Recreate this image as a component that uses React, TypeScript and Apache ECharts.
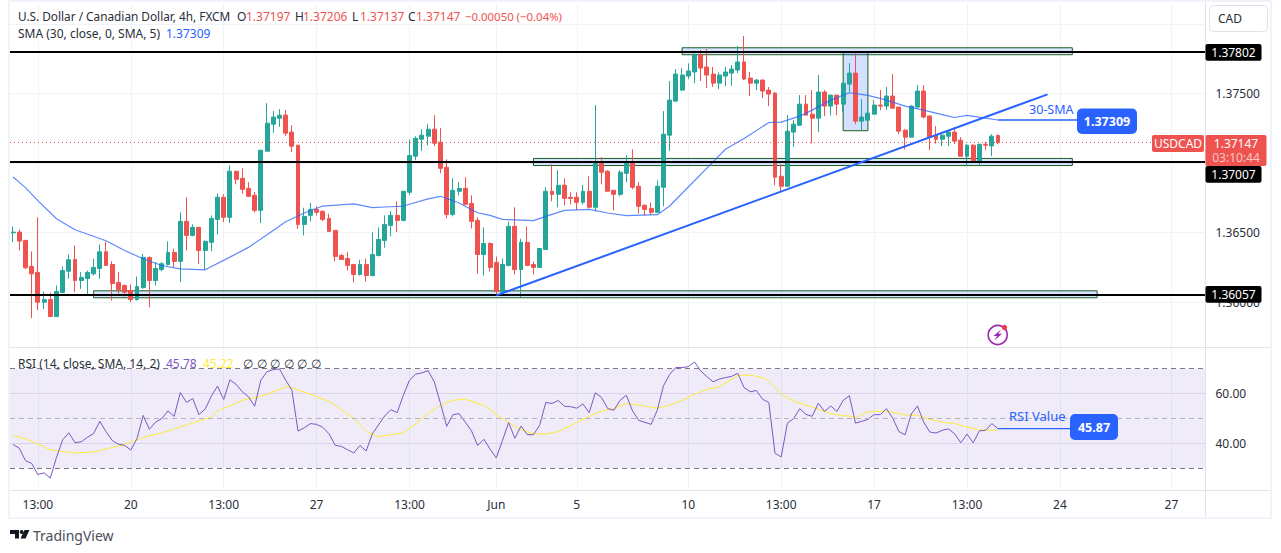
import React, { useEffect, useRef } from "react";
import * as echarts from "echarts";

const FONT = '"Noto Sans", sans-serif';
const UP = "#26a69a";
const DOWN = "#ef5350";
const BLUE = "#2962ff";
const GRID = "#f0f3fa";

const opens = [
  1.36499,1.36504,1.36444,1.36257,1.36214,1.36000,1.36019,1.35897,1.36070,1.36223,
  1.36307,1.36156,1.36170,1.36204,1.36242,1.36362,1.36271,1.36142,1.36120,1.36084,
  1.36019,1.36106,1.36322,1.36156,1.36235,1.36271,1.36358,1.36293,1.36581,1.36480,
  1.36538,1.36372,1.36430,1.36595,1.36754,1.36610,1.36941,1.36890,1.36818,1.36768,
  1.36660,1.37085,1.37279,1.37322,1.37344,1.37222,1.37128,1.36559,1.36624,1.36667,
  1.36653,1.36602,1.36516,1.36336,1.36314,1.36271,1.36199,1.36271,1.36192,1.36336,
  1.36444,1.36552,1.36624,1.36588,1.36790,1.37049,1.37171,1.37193,1.37243,1.37150,
  1.36970,1.36631,1.36797,1.36818,1.36710,1.36588,1.36343,1.36422,1.36286,1.36072,
  1.36264,1.36545,1.36235,1.36430,1.36271,1.36250,1.36379,1.36797,1.36775,1.36840,
  1.36754,1.36754,1.36718,1.36797,1.36682,1.36998,1.36941,1.36804,1.36775,1.36926,
  1.37006,1.36833,1.36696,1.36674,1.36646,1.36826,1.37200,1.37445,1.37524,1.37625,
  1.37654,1.37776,1.37690,1.37639,1.37574,1.37625,1.37646,1.37668,1.37726,1.37610,
  1.37574,1.37596,1.37524,1.37502,1.36905,1.36833,1.37222,1.37272,1.37423,1.37351,
  1.37322,1.37510,1.37409,1.37488,1.37423,1.37567,1.37646,1.37301,1.37308,1.37351,
  1.37416,1.37409,1.37481,1.37402,1.37236,1.37186,1.37402,1.37517,1.37337,1.37200,
  1.37171,1.37193,1.37222,1.37164,1.37049,1.37128,1.37013,1.37135,1.37123,1.37197,
];
const closes = [
  1.36504,1.36439,1.36247,1.36204,1.36000,1.36019,1.35897,1.36077,1.36228,1.36305,
  1.36156,1.36178,1.36214,1.36250,1.36362,1.36264,1.36134,1.36091,1.36072,1.36019,
  1.36113,1.36322,1.36156,1.36242,1.36276,1.36358,1.36293,1.36581,1.36480,1.36538,
  1.36372,1.36437,1.36602,1.36754,1.36610,1.36941,1.36883,1.36811,1.36761,1.36660,
  1.37092,1.37286,1.37330,1.37344,1.37214,1.37121,1.36559,1.36617,1.36667,1.36646,
  1.36595,1.36509,1.36329,1.36307,1.36264,1.36199,1.36271,1.36192,1.36343,1.36451,
  1.36559,1.36624,1.36588,1.36797,1.37054,1.37178,1.37200,1.37243,1.37142,1.36962,
  1.36631,1.36804,1.36818,1.36703,1.36581,1.36343,1.36422,1.36250,1.36077,1.36271,
  1.36545,1.36235,1.36430,1.36264,1.36250,1.36386,1.36797,1.36775,1.36840,1.36746,
  1.36746,1.36718,1.36797,1.36682,1.36998,1.36934,1.36797,1.36775,1.36934,1.37006,
  1.36826,1.36689,1.36667,1.36646,1.36833,1.37207,1.37452,1.37639,1.37632,1.37661,
  1.37776,1.37682,1.37632,1.37574,1.37632,1.37654,1.37675,1.37726,1.37603,1.37574,
  1.37596,1.37517,1.37495,1.36898,1.36833,1.37229,1.37279,1.37423,1.37344,1.37322,
  1.37510,1.37409,1.37488,1.37423,1.37574,1.37646,1.37301,1.37330,1.37358,1.37416,
  1.37409,1.37481,1.37394,1.37229,1.37186,1.37409,1.37517,1.37330,1.37186,1.37171,
  1.37200,1.37222,1.37157,1.37049,1.37128,1.37013,1.37135,1.37128,1.37193,1.37147,
];
const highs = [
  1.36545,1.36523,1.36449,1.36365,1.36610,1.36077,1.36067,1.36120,1.36257,1.36343,
  1.36408,1.36216,1.36228,1.36312,1.36415,1.36434,1.36295,1.36216,1.36127,1.36127,
  1.36185,1.36348,1.36329,1.36288,1.36288,1.36437,1.36384,1.36646,1.36754,1.36559,
  1.36538,1.36444,1.36624,1.36782,1.36775,1.36984,1.36941,1.36962,1.36862,1.36792,
  1.37092,1.37430,1.37373,1.37387,1.37380,1.37272,1.37128,1.36679,1.36713,1.36689,
  1.36660,1.36636,1.36516,1.36348,1.36360,1.36276,1.36305,1.36312,1.36502,1.36538,
  1.36624,1.36655,1.36725,1.36797,1.37169,1.37193,1.37243,1.37279,1.37344,1.37250,
  1.37027,1.36890,1.36862,1.36898,1.36768,1.36610,1.36538,1.36430,1.36329,1.36314,
  1.36581,1.36682,1.36456,1.36545,1.36293,1.36386,1.36826,1.36991,1.36948,1.36890,
  1.36790,1.36790,1.36842,1.36905,1.37416,1.37042,1.36948,1.36804,1.36948,1.37056,
  1.37099,1.36862,1.36703,1.36718,1.36876,1.37373,1.37589,1.37675,1.37682,1.37716,
  1.37800,1.37812,1.37819,1.37690,1.37651,1.37690,1.37704,1.37841,1.37913,1.37654,
  1.37603,1.37601,1.37546,1.37510,1.36991,1.37344,1.37308,1.37488,1.37488,1.37524,
  1.37632,1.37524,1.37488,1.37488,1.37574,1.37718,1.37790,1.37459,1.37423,1.37452,
  1.37524,1.37546,1.37639,1.37402,1.37243,1.37416,1.37560,1.37560,1.37344,1.37265,
  1.37222,1.37229,1.37258,1.37186,1.37135,1.37135,1.37135,1.37152,1.37207,1.37206,
];
const lows = [
  1.36432,1.36372,1.36240,1.35885,1.35945,1.35952,1.35897,1.35897,1.36065,1.36168,
  1.36072,1.36096,1.36060,1.36192,1.36168,1.36264,1.36012,1.36060,1.36041,1.36000,
  1.36012,1.36096,1.35964,1.36120,1.36223,1.36264,1.36252,1.36144,1.36372,1.36473,
  1.36276,1.36233,1.36367,1.36487,1.36576,1.36569,1.36847,1.36780,1.36756,1.36646,
  1.36569,1.37085,1.37217,1.37260,1.37195,1.37080,1.36528,1.36480,1.36581,1.36624,
  1.36583,1.36509,1.36295,1.36305,1.36228,1.36142,1.36192,1.36149,1.36185,1.36329,
  1.36391,1.36473,1.36504,1.36581,1.36770,1.37020,1.37087,1.37128,1.37121,1.36926,
  1.36602,1.36617,1.36768,1.36703,1.36530,1.36206,1.36192,1.36221,1.36055,1.36060,
  1.36257,1.36199,1.36036,1.36264,1.36199,1.36250,1.36379,1.36725,1.36682,1.36696,
  1.36703,1.36662,1.36703,1.36674,1.36653,1.36847,1.36797,1.36660,1.36761,1.36862,
  1.36811,1.36636,1.36622,1.36629,1.36641,1.36689,1.37087,1.37438,1.37517,1.37603,
  1.37574,1.37589,1.37538,1.37546,1.37531,1.37553,1.37555,1.37646,1.37596,1.37481,
  1.37524,1.37466,1.37409,1.36840,1.36797,1.36833,1.37116,1.37267,1.37344,1.37140,
  1.37222,1.37337,1.37342,1.37344,1.37368,1.37510,1.37279,1.37236,1.37301,1.37351,
  1.37380,1.37380,1.37394,1.37207,1.37097,1.37186,1.37394,1.37322,1.37092,1.37140,
  1.37121,1.37121,1.37135,1.37049,1.36977,1.37011,1.36984,1.37092,1.37049,1.37137,
];
const smaPoints = [
  [0,1.36900],[2,1.36823],[4,1.36730],[7,1.36600],[10,1.36521],[15,1.36442],[18,1.36372],[21,1.36312],
  [24,1.36264],[27,1.36240],[31,1.36233],[35,1.36324],[38,1.36394],[41,1.36485],[44,1.36578],[47,1.36641],
  [50,1.36691],[55,1.36706],[58,1.36679],[60,1.36684],[63,1.36691],[67,1.36742],[69,1.36761],[72,1.36713],
  [75,1.36643],[77,1.36624],[79,1.36595],[84,1.36586],[86,1.36617],[89,1.36660],[93,1.36667],[96,1.36641],
  [99,1.36622],[104,1.36629],[106,1.36691],[109,1.36828],[113,1.37008],[115,1.37099],[118,1.37176],[122,1.37291],
  [124,1.37294],[127,1.37337],[129,1.37380],[132,1.37452],[135,1.37505],[138,1.37486],[141,1.37452],[144,1.37409],
  [147,1.37380],[151,1.37337],[152,1.37327],[154,1.37342],[157,1.37322],[159,1.37309],
];
const rsiValues = [
  39.5,38.0,33.0,31.9,27.4,28.1,26.0,34.3,41.4,44.2,
  40.2,40.6,42.4,43.9,48.8,44.7,41.1,39.6,39.1,37.3,
  41.8,51.2,45.6,48.5,49.9,53.0,50.8,60.4,56.4,58.0,
  51.5,53.7,58.9,63.0,57.6,65.5,63.7,60.7,58.7,54.9,
  65.4,68.8,69.6,69.9,65.4,61.4,44.9,46.2,47.9,47.6,
  46.4,43.8,39.2,38.7,37.4,36.1,39.1,36.9,43.8,47.4,
  51.0,53.5,52.3,59.3,65.4,67.8,68.3,69.2,64.7,56.0,
  46.8,51.5,51.9,48.5,45.0,39.1,41.6,37.7,34.1,41.1,
  48.3,42.0,46.9,43.5,43.4,47.2,56.4,56.0,57.2,54.9,
  54.7,54.1,55.8,52.3,60.3,58.4,53.9,53.3,57.3,59.3,
  53.0,49.2,48.4,47.6,53.3,63.1,67.7,70.5,70.4,70.8,
  72.7,69.1,66.8,64.7,65.8,66.4,66.9,68.1,62.4,60.7,
  61.2,57.7,56.4,36.0,34.5,48.1,49.9,53.9,51.6,50.8,
  56.1,52.8,55.0,52.8,57.2,59.1,48.1,48.8,49.6,51.5,
  51.5,53.9,50.1,44.7,43.4,51.8,55.0,48.5,44.5,44.1,
  45.2,45.8,43.8,40.2,43.7,40.2,45.0,45.2,47.9,45.87,
];
const rsiMaPoints = [
  [0,43.1],[2,41.8],[4,39.7],[6,37.3],[10,36.1],[13,36.5],[18,39.5],[20,41.5],[22,43.0],[24,44.1],[27,46.5],
  [32,50.6],[33,53.0],[35,55.0],[37,57.3],[39,58.3],[41,59.6],[44,62.7],[45,62.3],[48,59.7],[51,56.9],[55,50.1],
  [57,44.7],[59,42.6],[63,44.2],[65,47.9],[67,51.9],[69,55.3],[71,57.3],[73,57.7],[75,56.0],[76,55.3],[78,51.5],
  [80,48.3],[82,45.4],[84,43.8],[86,43.7],[88,44.7],[91,48.3],[93,50.8],[95,53.0],[97,53.9],[99,56.0],[102,54.9],
  [104,54.1],[106,55.3],[108,57.3],[110,59.7],[112,61.6],[114,62.7],[117,67.2],[119,67.4],[121,66.4],[122,65.1],
  [124,59.7],[126,57.0],[128,55.3],[130,53.7],[132,51.9],[134,51.0],[135,51.0],[136,50.3],[138,52.6],[141,53.0],
  [144,51.4],[146,51.2],[148,49.6],[150,48.5],[152,47.9],[154,46.5],[156,45.3],[159,45.22],
];
const trendLine = [[78,1.36049],[167,1.37493]];
const smaCallout = [[159,1.37309],[172,1.37309]];
const rsiCallout = [[159,45.87],[171,45.87]];
const levels = [1.37802,1.37007,1.36057];
const levelLabels = ["1.37802","1.37007","1.36057"];
const zones = [
  { x0:108, x1:171, hi:1.37828, lo:1.37778 },
  { x0:84, x1:171, hi:1.37033, lo:1.36982 },
  { x0:13, x1:175, hi:1.36082, lo:1.36032 },
];
const focusBox = { x0:134, x1:138, hi:1.37796, lo:1.37232 };
const lastPrice = 1.37147;
const priceGridTicks = [1.36,1.365,1.37,1.375,1.38];
const priceLabelTicks = [1.36,1.365,1.375];
const rsiTicks = [40,60];
const categoryCount = 193;
const timeTickIndex = [4,19,34,49,64,78,91,109,124,139,154,169,187];
const timeTickLabels = ["13:00","20","13:00","27","13:00","Jun","5","10","13:00","17","13:00","24","27"];

const categories = Array.from({ length: categoryCount }, (_, i) => {
  const k = timeTickIndex.indexOf(i);
  return k >= 0 ? timeTickLabels[k] : `b${i}`;
});
const isTick = (i: number) => timeTickIndex.includes(i);

const txt = (x: number, y: number, text: string, fill: string, fontSize = 12, extra: any = {}) => ({
  type: "text", x, y, z: 60,
  style: { text, fill, font: `${extra.fontWeight || "normal"} ${fontSize}px ${FONT}`, textAlign: extra.align || "left", textVerticalAlign: "middle", textBaseline: "middle" },
});
const box = (x: number, y: number, width: number, height: number, fill: string, r = 0, z = 55, stroke?: string) => ({
  type: "rect", z, shape: { x, y, width, height, r },
  style: { fill, stroke: stroke || "none", lineWidth: stroke ? 1 : 0 },
});
const rule = (x1: number, y1: number, x2: number, y2: number, stroke: string, lineWidth = 1, z = 50) => ({
  type: "line", z, shape: { x1, y1, x2, y2 }, style: { stroke, lineWidth },
});

export default function App() {
  const ref = useRef<HTMLDivElement>(null);
  useEffect(() => {
    document.body.style.margin = "0";
    const chart = echarts.init(ref.current!, undefined, { renderer: "svg" });
    const xBase = (gridIndex: number, show: boolean) => ({
      type: "category", gridIndex, data: categories, boundaryGap: true,
      axisLine: { show: false }, axisTick: { show: false },
      axisLabel: {
        show, interval: (i: number) => isTick(i), margin: 8, color: "#2a2e39",
        fontFamily: FONT, fontSize: 12, hideOverlap: false,
      },
      splitLine: { show: true, interval: (i: number) => isTick(i), alignWithLabel: true, lineStyle: { color: GRID, width: 1 } },
    });
    const option: any = {
      animation: false,
      backgroundColor: "#ffffff",
      grid: [
        { left: 10, top: 3, width: 1195.5, height: 344.5 },
        { left: 10, top: 347.5, width: 1195.5, height: 143 },
      ],
      xAxis: [xBase(0, false), xBase(1, true)],
      yAxis: [
        {
          type: "value", gridIndex: 0, position: "right", min: 1.356748, max: 1.381496, scale: true,
          axisLine: { show: false }, axisTick: { show: false, customValues: priceGridTicks },
          axisLabel: { customValues: priceLabelTicks, margin: 10, color: "#2a2e39", fontFamily: FONT, fontSize: 12, formatter: (v: number) => v.toFixed(5) },
          splitLine: { show: true, lineStyle: { color: GRID, width: 1 } },
        },
        {
          type: "value", gridIndex: 1, position: "right", min: 21.0, max: 78.5, scale: true,
          axisLine: { show: false }, axisTick: { show: false, customValues: rsiTicks },
          axisLabel: { customValues: rsiTicks, margin: 10, color: "#2a2e39", fontFamily: FONT, fontSize: 12, formatter: (v: number) => v.toFixed(2) },
          splitLine: { show: true, lineStyle: { color: "#e6e3ef", width: 1 } },
        },
      ],
      series: [
        {
          name: "drawings", type: "line", xAxisIndex: 0, yAxisIndex: 0, data: [], z: 1, silent: true,
          markArea: {
            silent: true,
            data: [
              ...zones.map((d) => [
                { xAxis: d.x0, yAxis: d.hi, itemStyle: { color: "rgba(41,98,255,0.18)", borderColor: "#1b5e20", borderWidth: 1 } },
                { xAxis: d.x1, yAxis: d.lo },
              ]),
              [
                { xAxis: focusBox.x0, yAxis: focusBox.hi, itemStyle: { color: "rgba(41,98,255,0.2)", borderColor: "#1b5e20", borderWidth: 1 } },
                { xAxis: focusBox.x1, yAxis: focusBox.lo },
              ],
            ],
          },
          markLine: {
            silent: true, symbol: "none", label: { show: false }, precision: 6,
            data: [
              ...levels.map((v) => ({ yAxis: v, lineStyle: { color: "#000000", width: 2, type: "solid" } })),
              { yAxis: lastPrice, lineStyle: { color: DOWN, width: 1, type: [1, 3] } },
            ],
          },
        },
        {
          name: "USDCAD", type: "candlestick", xAxisIndex: 0, yAxisIndex: 0, z: 3, barWidth: 4.4,
          data: opens.map((o, i) => [o, closes[i], lows[i], highs[i]]),
          itemStyle: { color: UP, color0: DOWN, borderColor: UP, borderColor0: DOWN, borderWidth: 1 },
        },
        {
          name: "SMA", type: "line", xAxisIndex: 0, yAxisIndex: 0, z: 4, data: smaPoints, symbol: "none",
          lineStyle: { color: BLUE, width: 1.2, opacity: 0.75 }, smooth: false,
        },
        {
          name: "Trend", type: "line", xAxisIndex: 0, yAxisIndex: 0, z: 5, data: trendLine, symbol: "none",
          lineStyle: { color: BLUE, width: 2 },
        },
        {
          name: "SMA callout", type: "line", xAxisIndex: 0, yAxisIndex: 0, z: 5,
          data: smaCallout.map((p, i) => ({ value: p, symbol: i === 0 ? "circle" : "none", symbolSize: 5 })),
          itemStyle: { color: BLUE }, lineStyle: { color: BLUE, width: 1.3 },
        },
        {
          name: "RSI band", type: "line", xAxisIndex: 1, yAxisIndex: 1, data: [], z: 1, silent: true,
          markArea: {
            silent: true,
            data: [[
              { xAxis: 0, x: 10, yAxis: 70, itemStyle: { color: "rgba(126,87,194,0.12)" } },
              { x: 1205.5, yAxis: 30 },
            ]],
          },
          markLine: {
            silent: true, symbol: "none", label: { show: false }, precision: 6,
            data: [
              { yAxis: 70, lineStyle: { color: "#787b86", width: 1, type: [5, 4] } },
              { yAxis: 50, lineStyle: { color: "#b5b3bd", width: 1, type: [5, 4] } },
              { yAxis: 30, lineStyle: { color: "#787b86", width: 1, type: [5, 4] } },
            ],
          },
        },
        {
          name: "RSI", type: "line", xAxisIndex: 1, yAxisIndex: 1, z: 4, symbol: "none",
          data: rsiValues, lineStyle: { color: "#7e57c2", width: 1 },
        },
        {
          name: "RSI MA", type: "line", xAxisIndex: 1, yAxisIndex: 1, z: 3, symbol: "none",
          data: rsiMaPoints, lineStyle: { color: "#ffeb3b", width: 1 },
        },
        {
          name: "RSI callout", type: "line", xAxisIndex: 1, yAxisIndex: 1, z: 5,
          data: rsiCallout.map((p, i) => ({ value: p, symbol: i === 0 ? "circle" : "none", symbolSize: 5 })),
          itemStyle: { color: BLUE }, lineStyle: { color: BLUE, width: 1.3 },
        },
      ],
      graphic: {
        elements: [
          { type: "rect", z: 40, shape: { x: 9, y: 1, width: 1262, height: 517 }, style: { fill: "none", stroke: GRID, lineWidth: 2 } },
          rule(10, 347.5, 1270, 347.5, "#e0e3eb"),
          rule(10, 490.5, 1270, 490.5, "#e0e3eb"),
          rule(1205.5, 2, 1205.5, 517, "#e0e3eb"),
          txt(18, 16, "U.S. Dollar / Canadian Dollar, 4h, FXCM", "#2a2e39", 11.8),
          txt(237, 16, "O", "#2a2e39"), txt(246, 16, "1.37197", DOWN),
          txt(295, 16, "H", "#2a2e39"), txt(303, 16, "1.37206", DOWN),
          txt(352, 16, "L", "#2a2e39"), txt(360, 16, "1.37137", DOWN),
          txt(408, 16, "C", "#2a2e39"), txt(416, 16, "1.37147", DOWN),
          txt(465, 16, "\u22120.00050 (\u22120.04%)", DOWN, 11.4),
          txt(18, 33, "SMA (30, close, 0, SMA, 5)", "#2a2e39"),
          txt(166, 33, "1.37309", BLUE),
          txt(18, 363, "RSI (14, close, SMA, 14, 2)", "#2a2e39"),
          txt(166, 363, "45.78", "#7e57c2"),
          txt(203, 363, "45.22", "#ffeb3b"),
          ...[243, 256.6, 270.2, 283.8, 297.4, 311].map((x) => txt(x, 363, "\u2205", "#2a2e39")),
          box(1209.5, 5.5, 58, 26, "#ffffff", 4, 52, "#e0e3eb"),
          txt(1218, 18.5, "CAD", "#2a2e39"),
          ...levelLabels.map((t, i) => {
            const y = [44, 166, 286][i];
            return [box(1205.5, y, 56, 16.7, "#000000", 2), txt(1233.5, y + 8.5, t, "#ffffff", 12, { align: "center" })];
          }).flat(),
          box(1152, 135, 52, 17, DOWN, 2),
          txt(1178, 143.5, "USDCAD", "#ffffff", 12, { align: "center" }),
          box(1205.5, 135, 61, 31, DOWN, 2),
          txt(1236, 143.5, "1.37147", "#ffffff", 12, { align: "center" }),
          txt(1236, 157.5, "03:10:44", "#f9c5c5", 12, { align: "center" }),
          txt(1029, 109, "30-SMA", BLUE, 12.5),
          box(1077, 108.5, 60, 25.5, BLUE, 5),
          txt(1107, 121, "1.37309", "#ffffff", 12.5, { align: "center", fontWeight: "bold" }),
          txt(1009, 415.5, "RSI Value", BLUE, 13),
          box(1070, 414, 48, 26, BLUE, 5),
          txt(1094, 427.5, "45.87", "#ffffff", 12.5, { align: "center", fontWeight: "bold" }),
          { type: "circle", z: 60, shape: { cx: 997.7, cy: 335, r: 9.5 }, style: { fill: "#ffffff", stroke: "#9c27b0", lineWidth: 1.6 } },
          { type: "polygon", z: 61, shape: { points: [[1001, 329.5], [993.5, 336], [997, 336], [994.5, 340.5], [1002, 333.8], [998.4, 333.8]] }, style: { fill: "#9c27b0" } },
          { type: "circle", z: 62, shape: { cx: 1004.5, cy: 327.5, r: 2.6 }, style: { fill: "#f23645" } },
          { type: "polygon", z: 60, shape: { points: [[10, 530], [19, 530], [19, 538.5], [15, 538.5], [15, 534], [10, 534]] }, style: { fill: "#131722" } },
          { type: "circle", z: 60, shape: { cx: 21.6, cy: 532, r: 1.9 }, style: { fill: "#131722" } },
          { type: "polygon", z: 60, shape: { points: [[24.5, 530], [29.5, 530], [25.5, 538.5], [20.5, 538.5]] }, style: { fill: "#131722" } },
          txt(33, 535.5, "TradingView", "#4a4e59", 14),
        ],
      },
    };
    chart.setOption(option);
    return () => chart.dispose();
  }, []);
  return <div ref={ref} style={{ width: 1281, height: 553 }} />;
}
